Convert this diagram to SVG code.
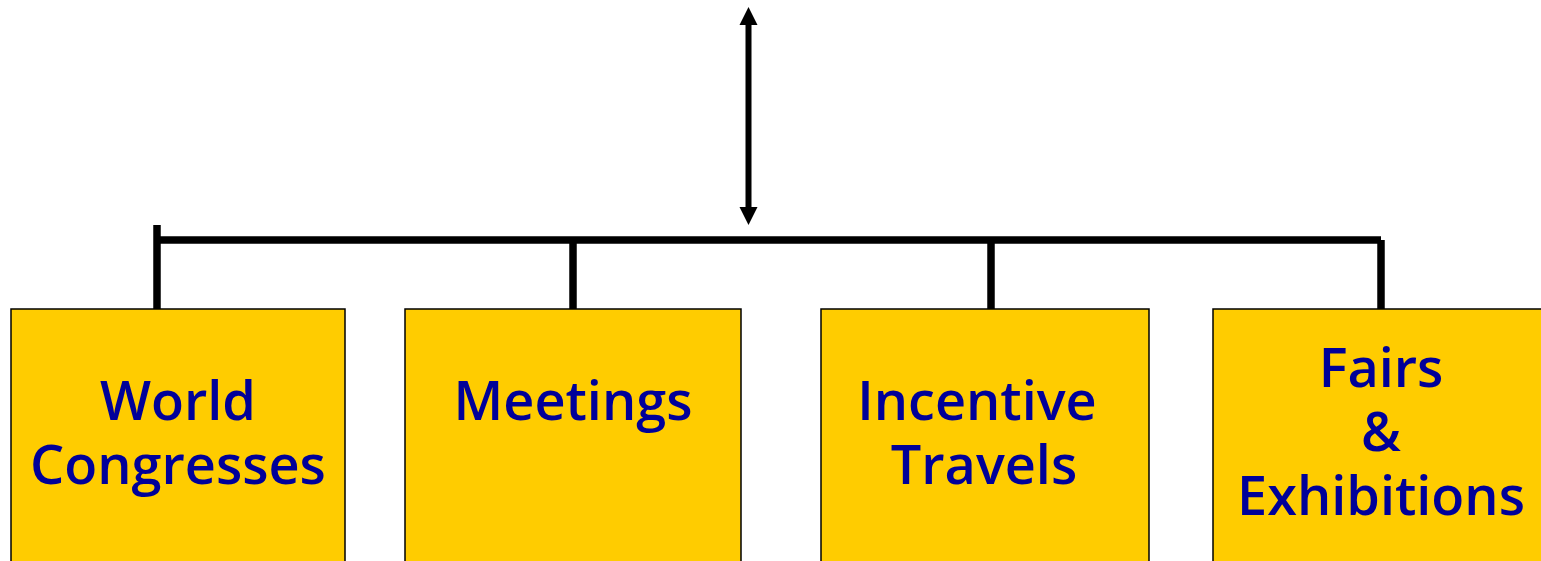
<svg xmlns="http://www.w3.org/2000/svg" width="1541" height="561" viewBox="0 0 1541 561">
<style>
.box{fill:#FFCC00;stroke:#000;stroke-width:1.5}
.lbl{font-family:"Open Sans","Noto Sans","DejaVu Sans",sans-serif;font-size:54px;font-weight:600;fill:#000099;text-anchor:middle}
.ln{stroke:#000;stroke-width:7.5;fill:none}
.head{fill:#000}
</style>
<rect width="1541" height="561" fill="#fff"/>
<g id="connectors">
<line class="ln" x1="157" y1="240" x2="1381" y2="240"/>
<line class="ln" x1="157" y1="225" x2="157" y2="309"/>
<line class="ln" x1="573" y1="240" x2="573" y2="309"/>
<line class="ln" x1="991" y1="240" x2="991" y2="309"/>
<line class="ln" x1="1381" y1="240" x2="1381" y2="309"/>
<line x1="748.5" y1="20" x2="748.5" y2="212" stroke="#000" stroke-width="6"/>
<path class="head" d="M748.5,7 L757.5,25 L739.5,25 Z"/>
<path class="head" d="M748.5,225 L757.5,207 L739.5,207 Z"/>
</g>
<g id="n1">
<rect class="box" x="11" y="309" width="334" height="260"/>
<text class="lbl"><tspan x="178" y="420">World</tspan><tspan x="178" y="484">Congresses</tspan></text>
</g>
<g id="n2">
<rect class="box" x="405" y="309" width="336" height="260"/>
<text class="lbl" x="573" y="420">Meetings</text>
</g>
<g id="n3">
<rect class="box" x="821" y="309" width="328" height="260"/>
<text class="lbl"><tspan x="977" y="420">Incentive</tspan><tspan x="984" y="484">Travels</tspan></text>
</g>
<g id="n4">
<rect class="box" x="1213" y="309" width="340" height="260"/>
<text class="lbl"><tspan x="1381" y="387">Fairs</tspan><tspan x="1381" y="451">&amp;</tspan><tspan x="1381" y="515">Exhibitions</tspan></text>
</g>
</svg>
